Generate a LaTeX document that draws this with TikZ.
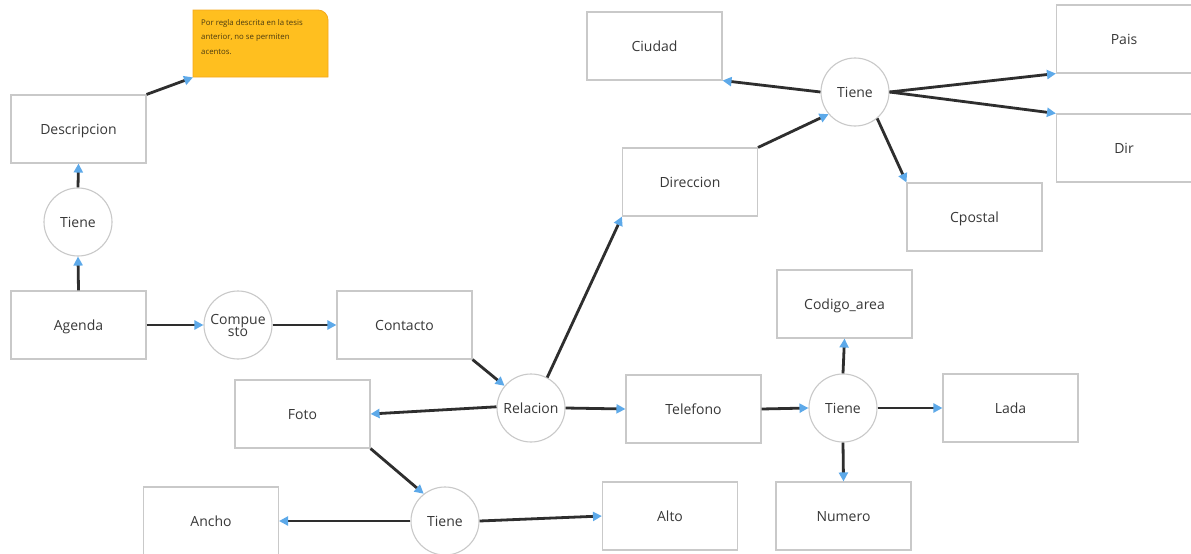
\documentclass[tikz,border=0pt]{standalone}
\usepackage{fontspec}
\setmainfont{Open Sans}
\usetikzlibrary{arrows.meta}
\definecolor{edgegray}{HTML}{C9C9C9}
\definecolor{txtgray}{HTML}{383838}
\definecolor{linegray}{HTML}{2E2E2E}
\definecolor{tipblue}{HTML}{5DA9E9}
\definecolor{notefill}{HTML}{FFBF1F}
\definecolor{noteline}{HTML}{F4A81C}
\definecolor{notetext}{HTML}{4A3A10}
\begin{document}
\begin{tikzpicture}[x=1pt,y=-1pt,
  ent/.style={draw=edgegray,line width=1.1pt,fill=white,minimum width=135pt,minimum height=68pt,
    inner sep=0pt,text=txtgray,font=\fontsize{14}{16}\selectfont,text height=10pt,text depth=0pt},
  rel/.style={circle,draw=edgegray,line width=1.1pt,fill=white,minimum size=68pt,inner sep=0pt,
    text=txtgray,font=\fontsize{14}{15}\selectfont,align=center,text height=10pt,text depth=0pt},
  link/.style={draw=linegray,line width=2.8pt,-{Triangle[length=9pt,width=9pt,color=tipblue]}}]
\useasboundingbox (0,0) rectangle (1191,554);
\fill[white] (0,0) rectangle (1191,554);

% note box with one rounded corner
\node[anchor=north west,inner sep=0pt,minimum width=135pt,minimum height=67pt] (note) at (193,10) {};
\draw[fill=notefill,draw=noteline,line width=0.8pt]
  (193,10) -- (318,10) arc[start angle=-90,end angle=0,radius=10] -- (328,77) -- (193,77) -- cycle;
\node[anchor=north west,inner sep=0pt,text=notetext,align=left,font=\fontsize{7.8}{14.3}\selectfont] (notetxt) at (201,19.5)
  {Por regla descrita en la tesis\\anterior, no se permiten\\acentos.};

% entities
\node[ent] (desc) at (78.5,129) {Descripcion};
\node[ent] (agenda) at (78.5,325) {Agenda};
\node[ent] (contacto) at (404.5,325) {Contacto};
\node[ent] (foto) at (302.5,414) {Foto};
\node[ent] (ancho) at (211,521) {Ancho};
\node[ent] (alto) at (670,516) {Alto};
\node[ent] (telefono) at (693.5,409) {Telefono};
\node[ent] (codigo) at (844.5,304) {Codigo\_area};
\node[ent] (lada) at (1010.5,408) {Lada};
\node[ent] (numero) at (843.5,516) {Numero};
\node[ent] (direccion) at (690,182) {Direccion};
\node[ent] (ciudad) at (654.5,46) {Ciudad};
\node[ent] (pais) at (1124,39) {Pais};
\node[ent] (dir) at (1124,148) {Dir};
\node[ent] (cpostal) at (974.5,217) {Cpostal};

% relationships
\node[rel] (tieneA) at (78,222) {Tiene};
\node[rel,text height=,text depth=] (compuesto) at (238,325) {Compue\\[-3pt]sto};
\node[rel] (relacion) at (531,408) {Relacion};
\node[rel] (tieneF) at (445,521) {Tiene};
\node[rel] (tieneT) at (843,408) {Tiene};
\node[rel] (tieneD) at (855,92) {Tiene};

% connectors
\draw[link] (desc.north east) -- (note.south west);
\draw[link] (agenda.north) -- (tieneA.south);
\draw[link] (tieneA.north) -- (desc.south);
\draw[link] (agenda.east) -- (compuesto.west);
\draw[link] (compuesto.east) -- (contacto.west);
\draw[link] (contacto.south east) -- (relacion.140);
\draw[link] (relacion.178) -- (foto.east);
\draw[link] (relacion.62) -- (direccion.south west);
\draw[link] (relacion.east) -- (telefono.west);
\draw[link] (foto.south east) -- (tieneF.128);
\draw[link] (tieneF.west) -- (ancho.east);
\draw[link] (tieneF.east) -- (alto.west);
\draw[link] (direccion.north east) -- (tieneD.220);
\draw[link] (tieneD.west) -- (ciudad.south east);
\draw[link] (tieneD.east) -- (pais.south west);
\draw[link] (tieneD.east) -- (dir.north west);
\draw[link] (tieneD.-50) -- (cpostal.north west);
\draw[link] (telefono.east) -- (tieneT.west);
\draw[link] (tieneT.north) -- (codigo.south);
\draw[link] (tieneT.east) -- (lada.west);
\draw[link] (tieneT.south) -- (numero.north);
\end{tikzpicture}
\end{document}
